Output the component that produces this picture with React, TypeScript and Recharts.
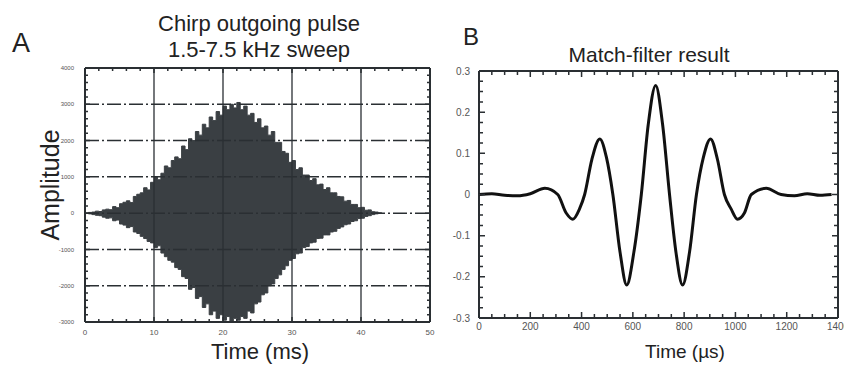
import React from "react";
import {
  ComposedChart,
  LineChart,
  Line,
  Area,
  XAxis,
  YAxis,
  ReferenceLine,
} from "recharts";

// panel A: chirp outgoing pulse, envelope read every 0.5 ms
const chirpTime = [
  0, 0.5, 1, 1.5, 2, 2.5, 3, 3.5, 4, 4.5, 5, 5.5, 6, 6.5, 7, 7.5, 8, 8.5, 9, 9.5,
  10, 10.5, 11, 11.5, 12, 12.5, 13, 13.5, 14, 14.5, 15, 15.5, 16, 16.5, 17, 17.5,
  18, 18.5, 19, 19.5, 20, 20.5, 21, 21.5, 22, 22.5, 23, 23.5, 24, 24.5, 25, 25.5,
  26, 26.5, 27, 27.5, 28, 28.5, 29, 29.5, 30, 30.5, 31, 31.5, 32, 32.5, 33, 33.5,
  34, 34.5, 35, 35.5, 36, 36.5, 37, 37.5, 38, 38.5, 39, 39.5, 40, 40.5, 41, 41.5,
  42, 42.5, 43,
];
const chirpHigh = [
  0, 20, 30, 55, 45, 90, 110, 95, 180, 150, 260, 300, 340, 290, 460, 520, 560, 700, 640, 850,
  1000, 920, 1100, 1300, 1250, 1450, 1550, 1500, 1850, 1750, 2050, 2000, 2250, 2150, 2450, 2350,
  2650, 2550, 2800, 2700, 2950, 2850, 3000, 2900, 3050, 2850, 2950, 2700, 2750, 2500, 2600, 2350,
  2400, 2150, 2250, 1950, 1950, 1700, 1650, 1400, 1450, 1200, 1250, 1050, 1050, 900, 950, 780,
  800, 650, 700, 560, 560, 460, 450, 330, 350, 240, 240, 150, 160, 80, 90, 40,
  30, 10, 0,
];
const chirpLow = [
  0, -20, -40, -60, -70, -110, -140, -130, -210, -190, -300, -330, -400, -370, -520, -560, -640, -700, -780, -820,
  -950, -900, -1100, -1200, -1300, -1350, -1500, -1550, -1750, -1800, -2100, -2050, -2350, -2300, -2600, -2500,
  -2800, -2700, -2900, -2800, -2950, -2850, -3000, -2900, -2950, -2850, -2900, -2700, -2750, -2500, -2450, -2250,
  -2200, -2000, -1950, -1800, -1700, -1550, -1450, -1300, -1250, -1120, -1100, -950, -920, -820, -800, -700,
  -690, -600, -600, -520, -500, -420, -380, -320, -300, -230, -210, -150, -140, -90, -70, -40,
  -20, -10, 0,
];

const chirpXLabels = [0, 10, 20, 30, 40, 50];
const chirpYLabels = [4000, 3000, 2000, 1000, 0, -1000, -2000, -3000];
const chirpGridX = [10, 20, 30, 40];
const chirpGridY = [3000, 2000, 1000, 0, -1000, -2000];

// panel B: match-filter result
const matchTime = [
  0, 50, 100, 150, 200, 257, 307, 340, 366, 392, 412, 440, 471, 497, 522, 550, 576, 604,
  633, 660, 689, 716, 743, 768, 794, 821, 848, 875, 903, 930, 957, 983, 1008, 1035,
  1062, 1120, 1178, 1230, 1280, 1330, 1375,
];
const matchValue = [
  0, 0.002, -0.002, -0.003, 0.002, 0.015, 0, -0.045, -0.06, -0.035, 0, 0.085, 0.135, 0.09, 0, -0.14, -0.22, -0.14,
  0, 0.17, 0.265, 0.17, 0, -0.14, -0.22, -0.14, 0, 0.09, 0.135, 0.085, 0, -0.035, -0.06, -0.045,
  0, 0.015, 0, -0.003, 0.002, -0.002, 0,
];
const matchXLabels = [0, 200, 400, 600, 800, 1000, 1200, 1400];
const matchYLabels = [0.3, 0.2, 0.1, 0, -0.1, -0.2, -0.3];

const chirpData = chirpTime.map((t, i) => ({ t, range: [chirpLow[i], chirpHigh[i]] }));
const matchData = matchTime.map((t, i) => ({ t, v: matchValue[i] }));

// minor tick positions
const chirpXTicks = Array.from({ length: 26 }, (_, i) => i * 2);
const chirpYTicks = Array.from({ length: 36 }, (_, i) => -3000 + i * 200);
const matchXTicks = Array.from({ length: 29 }, (_, i) => i * 50);
const matchYTicks = Array.from({ length: 25 }, (_, i) => Math.round((-0.3 + i * 0.025) * 1000) / 1000);

const FONT = "'Liberation Sans', Arial, sans-serif";

// inward tick on both opposite sides of the frame, label only on bottom/left
function AxisTick(props: any) {
  const { x, y, payload, side, labels, major, minor, fontSize, gap, span, color } = props;
  const v = payload.value;
  const isMajor = labels.some((l: number) => Math.abs(l - v) < 1e-6);
  const len = isMajor ? major : minor;
  let d = "";
  let label = null;
  if (side === "bottom") {
    const top = y - span;
    d = `M${x},${y}L${x},${y - len}M${x},${top}L${x},${top + len}`;
    if (isMajor)
      label = (
        <text x={x} y={y + gap} textAnchor="middle" fontSize={fontSize} fill="#555555" stroke="none" fontFamily={FONT}>
          {String(v)}
        </text>
      );
  } else {
    const right = x + span;
    d = `M${x},${y}L${x + len},${y}M${right},${y}L${right - len},${y}`;
    if (isMajor)
      label = (
        <text x={x - gap} y={y + fontSize * 0.35} textAnchor="end" fontSize={fontSize} fill="#555555" stroke="none" fontFamily={FONT}>
          {String(v)}
        </text>
      );
  }
  return (
    <g>
      <path d={d} stroke={color} strokeWidth={1.5} fill="none" />
      {label}
    </g>
  );
}

function ChirpChart() {
  return (
    <ComposedChart
      width={440}
      height={366}
      data={chirpData}
      margin={{ top: 68, right: 10, bottom: 24, left: 55 }}
    >
      <XAxis
        dataKey="t"
        type="number"
        domain={[0, 50]}
        ticks={chirpXTicks}
        interval={0}
        height={20}
        tickSize={0}
        tickMargin={0}
        tickLine={false}
        stroke="#2a2f33"
        axisLine={true}
        tick={(p: any) => (
          <AxisTick {...p} color="#2a2f33" side="bottom" span={254} labels={chirpXLabels} major={5} minor={3} fontSize={8} gap={13} />
        )}
      />
      <YAxis
        type="number"
        domain={[-3000, 4000]}
        ticks={chirpYTicks}
        interval={0}
        width={30}
        tickSize={0}
        tickMargin={0}
        tickLine={false}
        stroke="#2a2f33"
        axisLine={true}
        tick={(p: any) => (
          <AxisTick {...p} color="#2a2f33" side="left" span={345} labels={chirpYLabels} major={5} minor={3} fontSize={6} gap={11} />
        )}
      />
      <ReferenceLine x={0} stroke="#2a2f33" strokeWidth={2} ifOverflow="visible" />
      <ReferenceLine x={50} stroke="#2a2f33" strokeWidth={2} ifOverflow="visible" />
      <ReferenceLine y={4000} stroke="#2a2f33" strokeWidth={2} ifOverflow="visible" />
      <ReferenceLine y={-3000} stroke="#2a2f33" strokeWidth={2} ifOverflow="visible" />
      {chirpGridX.map((g) => (
        <ReferenceLine key={"x" + g} x={g} stroke="#2a2f33" strokeWidth={1.3} />
      ))}
      {chirpGridY.map((g) => (
        <ReferenceLine key={"y" + g} y={g} stroke="#2a2f33" strokeWidth={1.5} strokeDasharray="14 3 2 3" />
      ))}
      <Area
        dataKey="range"
        type="stepAfter"
        stroke="#3a3f43"
        strokeWidth={1}
        fill="#3a3f43"
        fillOpacity={1}
        isAnimationActive={false}
      />
    </ComposedChart>
  );
}

function MatchChart() {
  return (
    <LineChart
      width={404}
      height={366}
      data={matchData}
      margin={{ top: 71, right: 6, bottom: 28, left: 9 }}
    >
      <XAxis
        dataKey="t"
        type="number"
        domain={[0, 1400]}
        ticks={matchXTicks}
        interval={0}
        height={20}
        tickSize={0}
        tickMargin={0}
        tickLine={false}
        stroke="#2a2f33"
        axisLine={true}
        tick={(p: any) => (
          <AxisTick {...p} color="#2a2f33" side="bottom" span={247} labels={matchXLabels} major={6} minor={4} fontSize={10} gap={12} />
        )}
      />
      <YAxis
        type="number"
        domain={[-0.3, 0.3]}
        ticks={matchYTicks}
        interval={0}
        width={30}
        tickSize={0}
        tickMargin={0}
        tickLine={false}
        stroke="#2a2f33"
        axisLine={true}
        tick={(p: any) => (
          <AxisTick {...p} color="#2a2f33" side="left" span={359} labels={matchYLabels} major={6} minor={4} fontSize={10} gap={9} />
        )}
      />
      <ReferenceLine x={0} stroke="#2a2f33" strokeWidth={2} ifOverflow="visible" />
      <ReferenceLine x={1400} stroke="#2a2f33" strokeWidth={2} ifOverflow="visible" />
      <ReferenceLine y={0.3} stroke="#2a2f33" strokeWidth={2} ifOverflow="visible" />
      <ReferenceLine y={-0.3} stroke="#2a2f33" strokeWidth={2} ifOverflow="visible" />
      <Line
        dataKey="v"
        type="monotone"
        stroke="#111111"
        strokeWidth={3}
        dot={false}
        isAnimationActive={false}
      />
    </LineChart>
  );
}

const txt: React.CSSProperties = {
  position: "absolute",
  lineHeight: 1,
  whiteSpace: "nowrap",
  color: "#222222",
  fontFamily: FONT,
};

export default function App() {
  return (
    <div
      style={{
        position: "absolute",
        left: 0,
        top: 0,
        width: 844,
        height: 366,
        background: "#ffffff",
        overflow: "hidden",
        fontFamily: FONT,
      }}
    >
      <div style={{ position: "absolute", left: 0, top: 0 }}>
        <ChirpChart />
      </div>
      <div style={{ position: "absolute", left: 440, top: 0 }}>
        <MatchChart />
      </div>

      <div style={{ ...txt, left: 12, top: 30, fontSize: 27 }}>A</div>
      <div style={{ ...txt, left: 259, top: 13, fontSize: 22, transform: "translateX(-50%)" }}>
        Chirp outgoing pulse
      </div>
      <div style={{ ...txt, left: 259, top: 39, fontSize: 22, transform: "translateX(-50%)" }}>
        1.5-7.5 kHz sweep
      </div>
      <div
        style={{
          ...txt,
          left: 50,
          top: 185,
          fontSize: 25,
          transform: "translate(-50%, -50%) rotate(-90deg)",
        }}
      >
        Amplitude
      </div>
      <div style={{ ...txt, left: 260, top: 341, fontSize: 22, transform: "translateX(-50%)" }}>
        Time (ms)
      </div>

      <div style={{ ...txt, left: 463, top: 25, fontSize: 24 }}>B</div>
      <div style={{ ...txt, left: 649, top: 44, fontSize: 21, transform: "translateX(-50%)" }}>
        Match-filter result
      </div>
      <div style={{ ...txt, left: 685, top: 342, fontSize: 19, transform: "translateX(-50%)" }}>
        Time (µs)
      </div>
    </div>
  );
}
